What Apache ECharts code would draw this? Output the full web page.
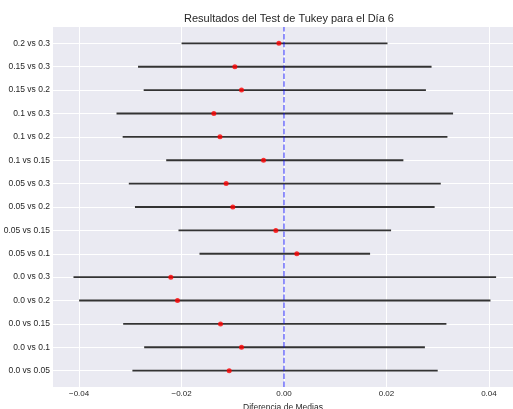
<!DOCTYPE html>
<html>
<head>
<meta charset="utf-8">
<script src="https://cdn.jsdelivr.net/npm/echarts@6/dist/echarts.min.js"></script>
<style>
  html, body { margin: 0; padding: 0; background: #ffffff; }
</style>
</head>
<body>
<div id="tukey" style="width: 513px; height: 409px;"></div>
<script>
// comparaciones, de abajo hacia arriba
var comparisons = ["0.0 vs 0.05", "0.0 vs 0.1", "0.0 vs 0.15", "0.0 vs 0.2", "0.0 vs 0.3",
  "0.05 vs 0.1", "0.05 vs 0.15", "0.05 vs 0.2", "0.05 vs 0.3",
  "0.1 vs 0.15", "0.1 vs 0.2", "0.1 vs 0.3", "0.15 vs 0.2", "0.15 vs 0.3", "0.2 vs 0.3"];
var meanDiff = [-0.0107, -0.0083, -0.0124, -0.0208, -0.0221,
  0.0025, -0.0016, -0.0100, -0.0113,
  -0.0040, -0.0125, -0.0137, -0.0083, -0.0096, -0.0010];
var lower = [-0.0296, -0.0273, -0.0314, -0.0400, -0.0411,
  -0.0165, -0.0206, -0.0291, -0.0303,
  -0.0230, -0.0315, -0.0327, -0.0274, -0.0285, -0.0200];
var upper = [0.0300, 0.0275, 0.0317, 0.0403, 0.0414,
  0.0168, 0.0209, 0.0294, 0.0306,
  0.0233, 0.0319, 0.0330, 0.0277, 0.0288, 0.0202];
var xTicks = [-0.04, -0.02, 0.00, 0.02, 0.04];

var rowIdx = [];
var intervals = [];
var points = [];
for (var i = 0; i < comparisons.length; i++) {
  rowIdx.push(i);
  intervals.push([lower[i], upper[i], i]);
  points.push([meanDiff[i], i]);
}

var myChart = echarts.init(document.getElementById("tukey"));

var option = {
  animation: false,
  backgroundColor: "#ffffff",
  title: {
    text: "Resultados del Test de Tukey para el Día 6",
    left: 284,
    textAlign: "center",
    top: 8,
    textStyle: {
      color: "#262626",
      fontSize: 11,
      fontWeight: "normal",
      fontFamily: "Liberation Sans"
    }
  },
  grid: {
    left: 53,
    right: 0,
    top: 27,
    bottom: 22,
    outerBoundsMode: "none",
    containLabel: false,
    show: true,
    backgroundColor: "#EAEAF2",
    borderWidth: 0
  },
  xAxis: {
    type: "value",
    min: -0.0451,
    max: 0.0447,
    name: "Diferencia de Medias",
    nameLocation: "middle",
    nameGap: 14,
    nameTextStyle: { color: "#262626", fontSize: 8.5, fontFamily: "Liberation Sans" },
    axisLine: { show: false },
    axisTick: { show: false, customValues: xTicks },
    axisLabel: {
      customValues: xTicks,
      color: "#262626",
      fontSize: 8,
      margin: 3,
      fontFamily: "Liberation Sans",
      formatter: function (v) {
        return v.toFixed(2).replace("-", "\u2212");
      }
    },
    splitLine: { show: true, lineStyle: { color: "#ffffff", width: 1 } }
  },
  yAxis: {
    type: "value",
    min: -0.7,
    max: 14.7,
    axisLine: { show: false },
    axisTick: { show: false, customValues: rowIdx },
    axisLabel: {
      customValues: rowIdx,
      color: "#262626",
      fontSize: 8.5,
      margin: 3,
      fontFamily: "Liberation Sans",
      formatter: function (v) {
        return comparisons[Math.round(v)];
      }
    },
    splitLine: { show: true, lineStyle: { color: "#ffffff", width: 1 } }
  },
  series: [
    {
      // intervalos de confianza
      type: "custom",
      data: intervals,
      encode: { x: [0, 1], y: 2 },
      renderItem: function (params, api) {
        var p1 = api.coord([api.value(0), api.value(2)]);
        var p2 = api.coord([api.value(1), api.value(2)]);
        return {
          type: "line",
          shape: { x1: p1[0], y1: p1[1], x2: p2[0], y2: p2[1] },
          style: { stroke: "#333333", lineWidth: 1.8 }
        };
      },
      z: 2
    },
    {
      name: "Diferencia de medias",
      type: "scatter",
      symbol: "circle",
      symbolSize: 5,
      itemStyle: { color: "#ff0000" },
      data: points,
      z: 4,
      markLine: {
        silent: true,
        symbol: "none",
        label: { show: false },
        lineStyle: { color: "rgba(0,0,255,0.55)", type: [5.5, 2.4], width: 1.5 },
        data: [{ xAxis: 0 }]
      }
    }
  ]
};

myChart.setOption(option, true);
</script>
</body>
</html>
